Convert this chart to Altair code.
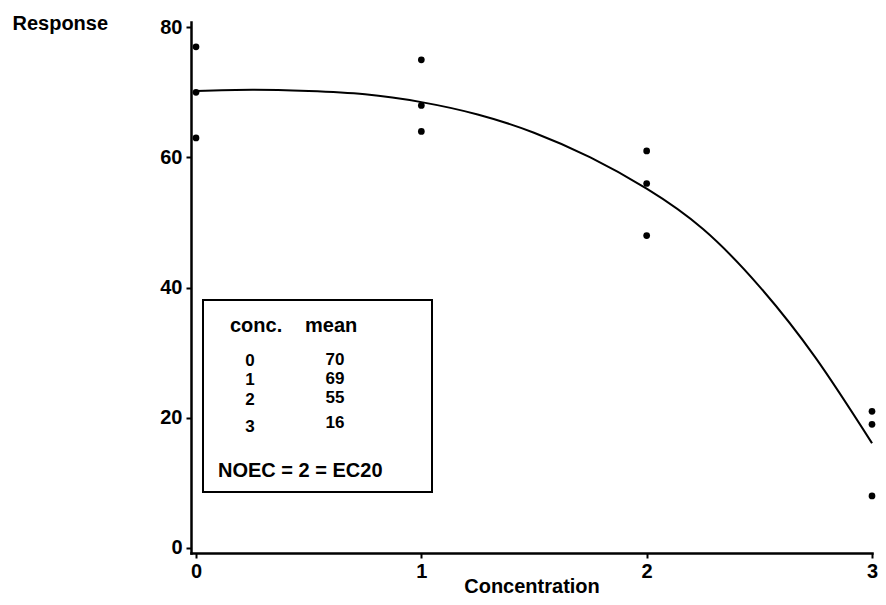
import altair as alt
import pandas as pd

# ---- data ----
conc = [0, 0, 0, 1, 1, 1, 2, 2, 2, 3, 3, 3]
response = [77, 70, 63, 75, 68, 64, 61, 56, 48, 21, 19, 8]
curve_x = [0, 0.25, 0.5, 0.75, 1.0, 1.25, 1.5, 1.75, 2.0, 2.25, 2.5, 2.75, 3.0]
curve_y = [70.2, 70.4, 70.2, 69.7, 68.5, 66.6, 63.8, 60.0, 55.2, 49.0, 40.2, 29.2, 16.1]
table_conc = ["0", "1", "2", "3"]
table_mean = ["70", "69", "55", "16"]
x_ticks = [0, 1, 2, 3]
y_ticks = [0, 20, 40, 60, 80]

FONT = "Liberation Sans"
FS = 20
W, H = 681, 531

xs = alt.Scale(domain=[-0.0222, 3], nice=False, zero=False)
ys = alt.Scale(domain=[-0.77, 80.81], nice=False, zero=False)

pts_df = pd.DataFrame({"c": conc, "r": response})
curve_df = pd.DataFrame({"c": curve_x, "r": curve_y})
dummy = pd.DataFrame({"a": [0]})

common_axis = dict(
    labelFont=FONT, labelFontSize=FS, labelFontWeight="bold", labelColor="black",
    titleFont=FONT, titleFontSize=FS, titleFontWeight="bold", titleColor="black",
    tickSize=5, tickWidth=2, tickColor="black",
    domainColor="black", domainWidth=2.5, domainCap="square",
    grid=False, labelOverlap=False, labelFlush=False, format="d",
)

x_axis = alt.Axis(values=x_ticks, title="Concentration", labelPadding=3,
                  titleY=39, titleBaseline="alphabetic", **common_axis)
y_axis = alt.Axis(values=y_ticks, title="Response", labelPadding=4,
                  titleAngle=0, titleAlign="left", titleBaseline="alphabetic",
                  titleX=-179, titleY=7, **common_axis)

points = alt.Chart(pts_df).mark_circle(size=45, color="black", opacity=1).encode(
    x=alt.X("c:Q", scale=xs, axis=x_axis),
    y=alt.Y("r:Q", scale=ys, axis=y_axis),
)

curve = alt.Chart(curve_df).mark_line(color="black", strokeWidth=2, interpolate="natural").encode(
    x=alt.X("c:Q", scale=xs, axis=x_axis),
    y=alt.Y("r:Q", scale=ys, axis=y_axis),
)

box = alt.Chart(dummy).mark_rect(fill="white", stroke="black", strokeWidth=2).encode(
    x=alt.value(12), x2=alt.value(241), y=alt.value(278), y2=alt.value(470)
)


def label(text, px, py, align, size=FS):
    return alt.Chart(dummy).mark_text(
        text=text, align=align, baseline="alphabetic", font=FONT,
        fontSize=size, fontWeight="bold", color="black"
    ).encode(x=alt.value(px), y=alt.value(py))


texts = [
    label("conc.", 39, 310, "left"),
    label("mean", 114, 310, "left"),
    label("NOEC = 2 = EC20", 27, 455, "left"),
]
conc_baselines = [344, 363, 383, 410]
mean_baselines = [343, 362, 381, 406]
for t, py in zip(table_conc, conc_baselines):
    texts.append(label(t, 59, py, "center", 17))
for t, py in zip(table_mean, mean_baselines):
    texts.append(label(t, 144, py, "center", 17))

chart = alt.layer(box, *texts, curve, points).properties(
    width=W, height=H,
    padding={"left": 183, "top": 14, "right": 6, "bottom": 44},
    autosize=alt.AutoSizeParams(type="none"),
).configure_view(stroke=None)

chart.save("out.html", embed_options={"renderer": "svg", "actions": False})
